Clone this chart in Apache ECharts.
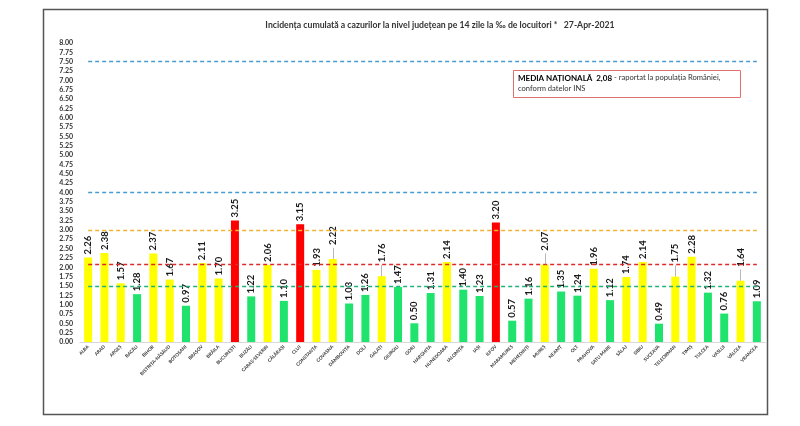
<!DOCTYPE html>
<html>
<head>
<meta charset="utf-8">
<script src="https://cdn.jsdelivr.net/npm/echarts@6/dist/echarts.min.js"></script>
<style>
html,body{margin:0;padding:0;background:#fff;}
#c{width:800px;height:426px;}
</style>
</head>
<body>
<div id="c"></div>
<script>
var categories = ["ALBA","ARAD","ARGEȘ","BACĂU","BIHOR","BISTRIȚA-NĂSĂUD","BOTOȘANI","BRAȘOV","BRĂILA","BUCUREȘTI","BUZĂU","CARAȘ-SEVERIN","CĂLĂRAȘI","CLUJ","CONSTANȚA","COVASNA","DÂMBOVIȚA","DOLJ","GALAȚI","GIURGIU","GORJ","HARGHITA","HUNEDOARA","IALOMIȚA","IAȘI","ILFOV","MARAMUREȘ","MEHEDINȚI","MUREȘ","NEAMȚ","OLT","PRAHOVA","SATU MARE","SĂLAJ","SIBIU","SUCEAVA","TELEORMAN","TIMIȘ","TULCEA","VASLUI","VÂLCEA","VRANCEA"];
var values = [2.26,2.38,1.57,1.28,2.37,1.67,0.97,2.11,1.70,3.25,1.22,2.06,1.10,3.15,1.93,2.22,1.03,1.26,1.76,1.47,0.50,1.31,2.14,1.40,1.23,3.20,0.57,1.16,2.07,1.35,1.24,1.96,1.12,1.74,2.14,0.49,1.75,2.28,1.32,0.76,1.64,1.09];
var raisedLabels = ["COVASNA","GALAȚI","MUREȘ","TELEORMAN","VÂLCEA"];
var nationalAverage = 2.08;
var thresholds = [
  {value: 7.5, color: "#4a9bd0"},
  {value: 4.0, color: "#4a9bd0"},
  {value: 3.0, color: "#f2b233"},
  {value: nationalAverage, color: "#e02828"},
  {value: 1.5, color: "#20b27a"}
];
var titleText = "Incidența cumulată a cazurilor la nivel județean pe 14 zile la ‰ de locuitori *   27-Apr-2021";

var FONT = "Lato, 'Open Sans', sans-serif";
var LEADER = 0.3; // leader length in axis units for raised labels
function barColor(v){ return v > 3 ? "#ff0000" : (v >= 1.5 ? "#ffff00" : "#1fe36c"); }

var chart = echarts.init(document.getElementById('c'), null, {renderer:'canvas'});
var first = categories[0], last = categories[categories.length-1];
var mlData = thresholds.map(function(t){
  return [
    {coord:[first, t.value], lineStyle:{color:t.color, type:[4,3], width:1.3}},
    {coord:[last, t.value]}
  ];
});
categories.forEach(function(c, i){
  if (raisedLabels.indexOf(c) >= 0) {
    mlData.push([
      {coord:[c, values[i]], lineStyle:{color:'#999', type:'solid', width:0.7}},
      {coord:[c, values[i] + LEADER]}
    ]);
  }
});

chart.setOption({
  animation:false,
  backgroundColor:'#fff',
  title:{
    text:titleText, left:435, top:16, textAlign:'center',
    textStyle:{fontFamily:FONT, fontSize:8.7, fontWeight:'bold', color:'#333'}
  },
  graphic:[
    {type:'rect', shape:{x:43.5,y:9.5,width:724,height:405}, style:{fill:'none', stroke:'#555', lineWidth:1.5}, silent:true, z:-1},
    {type:'rect', shape:{x:513.5,y:70.5,width:227,height:27}, style:{fill:'#fff', stroke:'#e07070', lineWidth:1}, z:10},
    {type:'text', left:518, top:74, z:11, style:{
      text:'{b|MEDIA NAȚIONALĂ  2,08}{n| - raportat la populația României,}\n{n|conform datelor INS}',
      rich:{
        b:{fontFamily:FONT, fontSize:8, fontWeight:'bold', fill:'#000', lineHeight:11},
        n:{fontFamily:FONT, fontSize:7.6, fill:'#333', lineHeight:11}
      }
    }}
  ],
  grid:{left:80, right:35, top:43, bottom:84, containLabel:false},
  xAxis:{
    type:'category', data:categories,
    axisLine:{show:true, lineStyle:{color:'#d9d9d9'}},
    axisTick:{show:false},
    axisLabel:{interval:0, rotate:45, fontSize:4.6, fontWeight:'bold', color:'#333', fontFamily:FONT, margin:4}
  },
  yAxis:{
    type:'value', min:0, max:8, interval:0.25,
    splitLine:{show:false},
    axisLine:{show:false}, axisTick:{show:false},
    axisLabel:{fontSize:7, fontWeight:'bold', color:'#333', fontFamily:FONT, margin:7,
      formatter:function(v){return v.toFixed(2);}}
  },
  series:[{
    type:'bar',
    data:values.map(function(v, i){
      var item = {value:v, itemStyle:{color:barColor(v)}};
      if (raisedLabels.indexOf(categories[i]) >= 0) item.label = {distance:14};
      return item;
    }),
    barWidth:8,
    label:{show:true, position:'top', rotate:90, align:'left', verticalAlign:'middle', distance:3,
      fontSize:9.5, fontWeight:'bold', color:'#1a1a1a', fontFamily:FONT,
      formatter:function(p){return p.value.toFixed(2);}},
    markLine:{
      symbol:['none','none'], silent:true,
      label:{show:false},
      data:mlData
    }
  }]
});
</script>
</body>
</html>
